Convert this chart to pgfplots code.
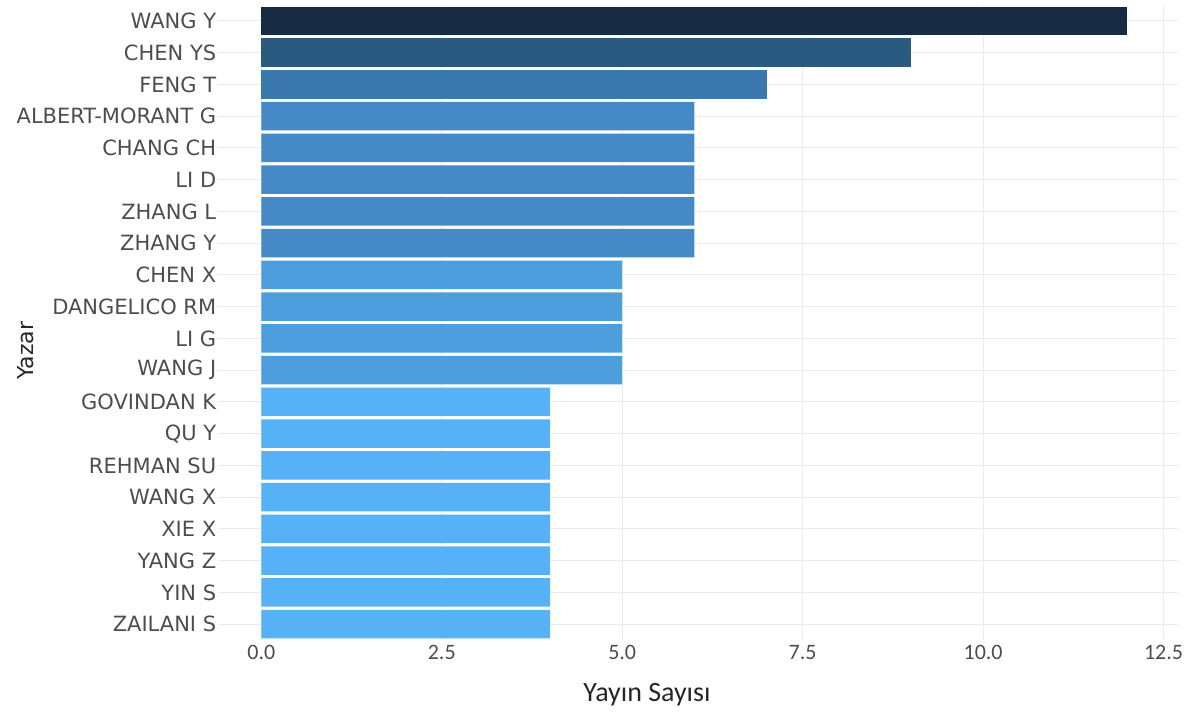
\documentclass[border=0pt]{standalone}
\usepackage{pgfplots}
\pgfplotsset{compat=1.18}
\usepackage{fontspec}
\setmainfont{DejaVu Sans}
\newfontfamily\tickfont{Carlito}
\definecolor{c12}{HTML}{172B43}
\definecolor{c9}{HTML}{2B5A80}
\definecolor{c7}{HTML}{3A78AE}
\definecolor{c6}{HTML}{4589C6}
\definecolor{c5}{HTML}{4D9EDD}
\definecolor{c4}{HTML}{56B1F7}
\definecolor{gridc}{HTML}{EBEBEB}
\definecolor{labc}{HTML}{4D4D4D}
\begin{document}
\begin{tikzpicture}
\useasboundingbox (-218pt,-74pt) rectangle (981pt,640pt);
\begin{axis}[
    scale only axis,
    width=960pt, height=635pt,
    xbar, bar width=28.5pt, bar shift=0pt,
    xmin=-0.6, xmax=12.7,
    ymin=0.5, ymax=20.5,
    y dir=reverse,
    xtick={0,2.5,...,12.5},
    xticklabels={0.0,2.5,5.0,7.5,10.0,12.5},
    ytick={1,...,20},
    yticklabels={WANG Y,CHEN YS,FENG T,ALBERT-MORANT G,CHANG CH,LI D,ZHANG L,ZHANG Y,CHEN X,DANGELICO RM,LI G,WANG J,GOVINDAN K,QU Y,REHMAN SU,WANG X,XIE X,YANG Z,YIN S,ZAILANI S},
    xmajorgrids, ymajorgrids,
    grid style={gridc, line width=1.2pt},
    axis line style={draw=none},
    major tick style={draw=none},
    yticklabel style={font=\fontsize{21}{22}\selectfont, text=labc, anchor=east, xshift=6pt},
    xticklabel style={font=\tickfont\fontsize{22}{24}\selectfont, text=labc, yshift=-2pt},
    xlabel={Yayın Sayısı},
    ylabel={Yazar},
    xlabel style={font=\tickfont\fontsize{28}{30}\selectfont, text=black!85, xshift=-51pt, yshift=-16pt},
    ylabel style={font=\fontsize{22}{24}\selectfont, text=black!85,
        at={([xshift=-192pt,yshift=-28pt]rel axis cs:0,0.5)}, anchor=center, rotate=0},
    /pgf/number format/assume math mode=true,
]
\addplot[fill=c12, draw=none] coordinates {(12,1)};
\addplot[fill=c9, draw=none] coordinates {(9,2)};
\addplot[fill=c7, draw=none] coordinates {(7,3)};
\addplot[fill=c6, draw=none] coordinates {(6,4) (6,5) (6,6) (6,7) (6,8)};
\addplot[fill=c5, draw=none] coordinates {(5,9) (5,10) (5,11) (5,12)};
\addplot[fill=c4, draw=none] coordinates {(4,13) (4,14) (4,15) (4,16) (4,17) (4,18) (4,19) (4,20)};
\end{axis}
\end{tikzpicture}
\end{document}
